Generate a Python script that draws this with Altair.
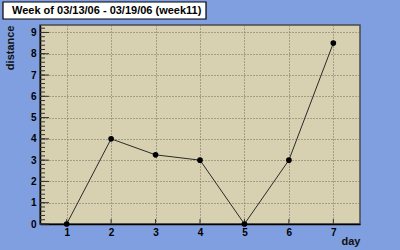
import altair as alt
import pandas as pd

days = [1, 2, 3, 4, 5, 6, 7]
distance = [0, 4, 3.25, 3.0, 0, 3.0, 8.5]
x_ticks = [1, 2, 3, 4, 5, 6, 7]
y_ticks = [0, 1, 2, 3, 4, 5, 6, 7, 8, 9]
y_minor = [round(i * 0.2, 1) for i in range(0, 47)]
title_text = "Week of 03/13/06 - 03/19/06 (week11)"

df = pd.DataFrame({"day": days, "distance": distance})
minor_df = pd.DataFrame({"v": y_minor})
major_df = pd.DataFrame({"v": y_ticks})
xt_df = pd.DataFrame({"d": x_ticks})
one = pd.DataFrame({"a": [0]})

W, H = 320, 199
xs = alt.Scale(domain=[0.4, 7.6], nice=False, zero=False)
ys = alt.Scale(domain=[0, 9.35], nice=False)

x_axis = alt.Axis(
    values=x_ticks, title="day", titleAnchor="end", titleFontWeight="bold",
    titleFontSize=11, titleColor="#111", titleY=20, titleBaseline="alphabetic",
    labelFontWeight="bold", labelFontSize=10, labelColor="#000", labelPadding=3,
    labelOverlap=False, tickSize=0, domainColor="#000", domainWidth=1.5,
    grid=True, gridDash=[1, 2], gridColor="#6e6a58", gridOpacity=1)
y_axis = alt.Axis(
    values=y_ticks, title="distance", titleAnchor="end", titleFontWeight="bold",
    titleFontSize=11, titleColor="#111", titleX=-25, titleY=0, titleAlign="right",
    labelFontWeight="bold", labelFontSize=10, labelColor="#000", labelPadding=4,
    labelOverlap=False, tickSize=0, domainColor="#000", domainWidth=1.5,
    grid=True, gridDash=[1, 2], gridColor="#6e6a58", gridOpacity=1)

line = alt.Chart(df).mark_line(color="#2a2a2a", strokeWidth=1).encode(
    x=alt.X("day:Q", scale=xs, axis=x_axis), y=alt.Y("distance:Q", scale=ys, axis=y_axis))
pts = alt.Chart(df).mark_circle(color="#000", size=32, opacity=1).encode(
    x=alt.X("day:Q", scale=xs, axis=x_axis), y=alt.Y("distance:Q", scale=ys, axis=y_axis))

minor = alt.Chart(minor_df).mark_rule(color="#333", strokeWidth=1).encode(
    y=alt.Y("v:Q", scale=ys, axis=y_axis), x=alt.value(0), x2=alt.value(5))
major = alt.Chart(major_df).mark_rule(color="#333", strokeWidth=1).encode(
    y=alt.Y("v:Q", scale=ys, axis=y_axis), x=alt.value(0), x2=alt.value(9))
xt = alt.Chart(xt_df).mark_rule(color="#333", strokeWidth=1).encode(
    x=alt.X("d:Q", scale=xs, axis=x_axis), y=alt.value(H), y2=alt.value(H - 5))

box = alt.Chart(one).mark_rect(fill="white", stroke="#000", strokeWidth=1.2).encode(
    x=alt.value(-37), x2=alt.value(166), y=alt.value(-23), y2=alt.value(-6))
ttl = alt.Chart(one).mark_text(align="left", baseline="middle", fontWeight="bold",
                               fontSize=11, color="#000", font="Liberation Sans").encode(
    x=alt.value(-28), y=alt.value(-14), text=alt.value(title_text))

chart = alt.layer(line, minor, major, xt, pts, box, ttl).properties(
    width=W, height=H,
    autosize=alt.AutoSizeParams(type="none"),
    padding={"left": 40, "top": 25, "right": 40, "bottom": 26},
    background="#809fe0",
).configure_view(fill="#d7d1b1", stroke="#4a4a4a", strokeWidth=1.5).configure_axis(
    labelFont="Liberation Sans", titleFont="Liberation Sans")

chart.save("out.html", embed_options={"renderer": "svg", "actions": False})
